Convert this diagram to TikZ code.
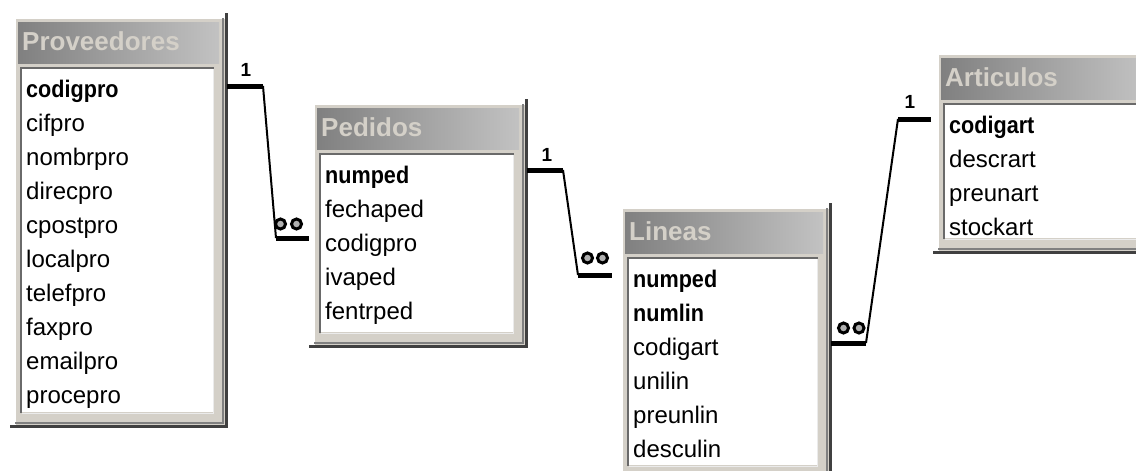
\documentclass[tikz,border=0pt]{standalone}
\usepackage{fontspec}
\setmainfont{Liberation Sans}
\newfontfamily\keyfont{Liberation Sans}[FakeStretch=0.9]
\usetikzlibrary{calc}

\definecolor{face}{HTML}{D4D0C8}
\definecolor{edge}{HTML}{404040}
\definecolor{sunk}{HTML}{6A6A6A}
\definecolor{titleL}{HTML}{808080}
\definecolor{titleR}{HTML}{C2C2C2}
\definecolor{titletext}{HTML}{D4D0C8}
\definecolor{ringfill}{HTML}{B0B0B0}

\tikzset{
  fieldtext/.style={anchor=base west, inner sep=0pt, font=\fontsize{24}{28}\selectfont},
  titletxt/.style={anchor=base west, inner sep=0pt, text=titletext,
                   font=\fontsize{26}{30}\selectfont\bfseries},
  onelabel/.style={inner sep=0pt, font=\fontsize{19}{22}\selectfont\bfseries},
  stub/.style={line width=5pt},
  link/.style={line width=2pt},
  ring/.style={draw=black, line width=3pt, fill=ringfill},
}

% key field: bold, slightly narrowed
\newcommand{\keyfield}[1]{{\keyfont\bfseries #1}}

% table window: #1 id, #2 left, #3 top, #4 right, #5 bottom, #6 title
\newcommand{\dbtable}[6]{%
  \fill[face] (#2,#3) rectangle (#4,#5);
  \draw[white, line width=1.5pt] (#2+0.75,#5) -- (#2+0.75,#3+0.75) -- (#4,#3+0.75);
  \draw[edge, line width=3pt] (#4,#3-4) -- (#4,#5) -- (#2-4,#5);
  \draw[gray, line width=1.5pt] (#4-2.8,#3+1) -- (#4-2.8,#5-2.8) -- (#2+1,#5-2.8);
  \shade[left color=titleL, right color=titleR] (#2+4,#3+5) rectangle (#4-7,#3+46);
  \node[titletxt] (#1-title) at (#2+8,#3+33) {#6};
  \fill[white] (#2+8,#3+52) rectangle (#4-13,#5-14);
  \draw[sunk, line width=2.5pt] (#2+7,#5-13) -- (#2+7,#3+51) -- (#4-12,#3+51);
  \draw[white!92!black, line width=1.5pt] (#4-12.5,#3+52) -- (#4-12.5,#5-12.5) -- (#2+8,#5-12.5);
}

% field list: #1 id, #2 left, #3 top, #4 fields
\newcommand{\dbfields}[4]{%
  \foreach \f [count=\i] in {#4} {
    \node[fieldtext] (#1-\i) at (#2+12,#3+80+34.1*\i-34.1) {\f};
  }
}

\begin{document}
\begin{tikzpicture}[x=1pt,y=-1pt]
  \useasboundingbox (0,0) rectangle (1136,471);
  \clip (0,0) rectangle (1136,471);
  \fill[white] (0,0) rectangle (1136,471);

  % tables
  \dbtable{prov}{14}{17}{226}{426}{Proveedores}
  \dbfields{prov}{14}{17}{\keyfield{codigpro},cifpro,nombrpro,direcpro,cpostpro,localpro,telefpro,faxpro,emailpro,procepro}

  \dbtable{ped}{313}{103}{526}{346}{Pedidos}
  \dbfields{ped}{313}{103}{\keyfield{numped},fechaped,codigpro,ivaped,fentrped}

  \dbtable{lin}{621}{207}{830}{479}{Lineas}
  \dbfields{lin}{621}{207}{\keyfield{numped},\keyfield{numlin},codigart,unilin,preunlin,desculin}

  \dbtable{art}{937}{53}{1152}{252}{Articulos}
  \dbfields{art}{937}{53}{\keyfield{codigart},descrart,preunart,stockart}

  % connector end points
  \coordinate (r1a) at (227,86);   \coordinate (r1b) at (263,86);
  \coordinate (r1c) at (276,238);  \coordinate (r1d) at (309,238);
  \coordinate (r2a) at (527,170);  \coordinate (r2b) at (563,170);
  \coordinate (r2c) at (578,275);  \coordinate (r2d) at (612,275);
  \coordinate (r3a) at (931,119);  \coordinate (r3b) at (898,119);
  \coordinate (r3c) at (866,343);  \coordinate (r3d) at (831,343);

  % Proveedores -> Pedidos
  \draw[stub] (r1a) -- (r1b);
  \draw[link] (r1b) -- (r1c);
  \draw[stub] (r1c) -- (r1d);
  \node[onelabel] (one1) at (246,70) {1};
  \draw[ring] (280.5,224) circle [radius=5pt];
  \draw[ring] (296.5,224) circle [radius=5pt];

  % Pedidos -> Lineas
  \draw[stub] (r2a) -- (r2b);
  \draw[link] (r2b) -- (r2c);
  \draw[stub] (r2c) -- (r2d);
  \node[onelabel] (one2) at (547,155) {1};
  \draw[ring] (587.5,258) circle [radius=5pt];
  \draw[ring] (602.5,258) circle [radius=5pt];

  % Articulos -> Lineas
  \draw[stub] (r3a) -- (r3b);
  \draw[link] (r3b) -- (r3c);
  \draw[stub] (r3c) -- (r3d);
  \node[onelabel] (one3) at (910,102) {1};
  \draw[ring] (843.5,328) circle [radius=5pt];
  \draw[ring] (859,328) circle [radius=5pt];
\end{tikzpicture}
\end{document}
